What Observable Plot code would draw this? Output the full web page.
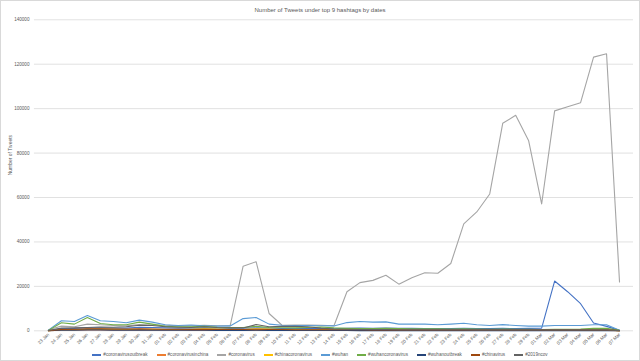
<!DOCTYPE html>
<html>
<head>
<meta charset="utf-8">
<script src="https://cdn.jsdelivr.net/npm/d3@7"></script>
<script src="https://cdn.jsdelivr.net/npm/@observablehq/plot@0.6"></script>
<style>
  html, body { margin: 0; padding: 0; background: #fff; }
  #wrap { position: relative; width: 640px; height: 361px; box-sizing: border-box; border: 1px solid #d9d9d9; overflow: hidden; font-family: "Liberation Sans", Arial, sans-serif; }
  #title { position: absolute; left: 0; top: 6px; width: 638px; text-align: center; font-size: 6px; color: #595959; line-height: 7px; }
  #chart { position: absolute; left: -1px; top: 13px; }
  #legend { position: absolute; left: 0; top: 351px; width: 638px; display: flex; justify-content: center; gap: 9px; font-size: 4.6px; color: #595959; line-height: 6px; }
  .item { display: flex; align-items: center; gap: 2px; }
  .sw { width: 9px; height: 1.2px; }
</style>
</head>
<body>
<div id="wrap">
  <div id="title">Number of Tweets under top 9 hashtags by dates</div>
  <div id="chart"></div>
  <div id="legend"></div>
</div>
<script>
const dates = ["23 Jan","24 Jan","25 Jan","26 Jan","27 Jan","28 Jan","29 Jan","30 Jan","31 Jan",
  "01 Feb","02 Feb","03 Feb","04 Feb","05 Feb","06 Feb","07 Feb","08 Feb","09 Feb","10 Feb",
  "11 Feb","12 Feb","13 Feb","14 Feb","15 Feb","16 Feb","17 Feb","18 Feb","19 Feb","20 Feb",
  "21 Feb","22 Feb","23 Feb","24 Feb","25 Feb","26 Feb","27 Feb","28 Feb","29 Feb",
  "01 Mar","02 Mar","03 Mar","04 Mar","05 Mar","06 Mar","07 Mar"];

const seriesNames = ["#coronavirusoutbreak","#coronavirusinchina","#coronavirus","#chinacoronavirus","#wuhan","#wuhancoronavirus","#wuhanoutbreak","#chinavirus","#2019ncov"];
const seriesColors = ["#4472C4","#ED7D31","#A5A5A5","#FFC000","#5B9BD5","#70AD47","#264478","#9E480E","#636363"];

const coronavirusoutbreak = [100,1000,1100,1400,1300,1200,1200,1600,1500,1300, 1200,1200,1300,1200,1100,1200,1300,1200,1100,1100, 1000,1000,900,1100,1200,1100,1200,1100,1100,1000, 1000,1000,1100,1000,1000,1100,1000,1100,1200,22400, 17600,12200,3500,2000,200];
const coronavirusinchina = [50,300,300,400,400,300,300,300,300,300, 300,200,300,200,200,200,200,200,200,200, 200,200,200,200,200,200,200,200,200,200, 200,200,200,200,200,200,200,200,200,200, 200,200,200,200,50];
const coronavirus = [500,2100,1800,3000,2700,2400,2200,2800,2600,2500, 2200,2200,2500,2300,2200,29100,31100,7800,2500,2600, 2600,2500,2300,17600,21700,22700,25000,21000,23900,26100, 25900,30300,48100,53500,61600,93400,97000,85500,57100,99000, 100900,102700,123200,124700,22000];
const chinacoronavirus = [100,500,500,700,800,700,600,700,700,600, 600,700,900,800,700,600,900,800,600,500, 400,400,300,300,300,300,300,300,300,300, 300,300,300,300,300,300,300,300,300,300, 300,300,300,300,100];
const wuhan = [300,4500,4200,6900,4500,4200,3600,4800,3900,2700, 2400,2600,2300,2100,2200,5500,6000,3000,2500,2400, 2400,2300,2200,3700,4200,3900,4000,3000,3000,3000, 2700,3000,3400,2700,2400,2800,2400,2100,2100,2400, 2400,2400,2700,2700,300];
const wuhancoronavirus = [200,3600,3000,6000,3300,2700,2700,3900,3000,2000, 1800,1800,2000,1600,1500,1500,2000,1500,1400,1300, 1500,1700,1300,1100,1000,1000,1100,1000,900,900, 900,800,900,800,700,800,700,700,600,700, 700,800,1100,1100,200];
const wuhanoutbreak = [50,300,300,400,400,300,300,400,300,300, 300,300,300,200,200,200,300,200,200,200, 200,200,200,200,100,100,100,100,100,100, 100,100,100,100,100,100,100,100,100,100, 100,100,100,100,50];
const chinavirus = [100,600,700,900,900,800,800,900,800,700, 700,600,700,600,600,600,700,600,600,500, 500,500,500,500,500,400,400,400,400,400, 400,400,400,400,400,400,400,400,400,400, 400,400,400,400,100];
const ncov2019 = [100,1200,1300,1500,1700,1600,1800,2500,2400,1800, 1600,1500,1800,1500,1400,1300,2800,1800,2000,2000, 1800,1200,800,700,600,600,600,500,500,500, 500,500,500,400,400,400,400,400,400,400, 400,400,400,400,100];

const yTicks = [0,20000,40000,60000,80000,100000,120000,140000];

const seriesValues = [coronavirusoutbreak, coronavirusinchina, coronavirus, chinacoronavirus, wuhan, wuhancoronavirus, wuhanoutbreak, chinavirus, ncov2019];

const rows = [];
seriesNames.forEach((name, s) => {
  seriesValues[s].forEach((v, i) => rows.push({series: name, date: dates[i], value: v}));
});

const plot = Plot.plot({
  width: 640,
  height: 337,
  marginTop: 5.3,
  marginBottom: 20.2,
  marginLeft: 34,
  marginRight: 6,
  style: {fontFamily: "Liberation Sans, Arial, sans-serif", color: "#595959", background: "transparent"},
  x: {type: "point", domain: dates, padding: 0.5, label: null},
  y: {domain: [0, 140000], label: null},
  color: {domain: seriesNames, range: seriesColors},
  marks: [
    Plot.gridY(yTicks, {stroke: "#d9d9d9", strokeOpacity: 1, strokeWidth: 0.8}),
    Plot.axisY(yTicks, {tickSize: 0, tickPadding: 5, tickFormat: d => String(d), fontSize: 4.6, fill: "#595959"}),
    Plot.axisX({tickSize: 0, tickPadding: 3, tickRotate: -45, fontSize: 4.6, fill: "#595959"}),
    Plot.text(["Number of Tweets"], {frameAnchor: "left", dx: -24, rotate: -90, fontSize: 5, fill: "#595959"}),
    Plot.line(rows, {x: "date", y: "value", z: "series", stroke: "series", strokeWidth: 1.1, curve: "linear"})
  ]
});
document.getElementById("chart").appendChild(plot);

const legend = document.getElementById("legend");
seriesNames.forEach((name, s) => {
  const item = document.createElement("div");
  item.className = "item";
  const sw = document.createElement("div");
  sw.className = "sw";
  sw.style.background = seriesColors[s];
  const t = document.createElement("span");
  t.textContent = name;
  item.appendChild(sw);
  item.appendChild(t);
  legend.appendChild(item);
});
</script>
</body>
</html>
